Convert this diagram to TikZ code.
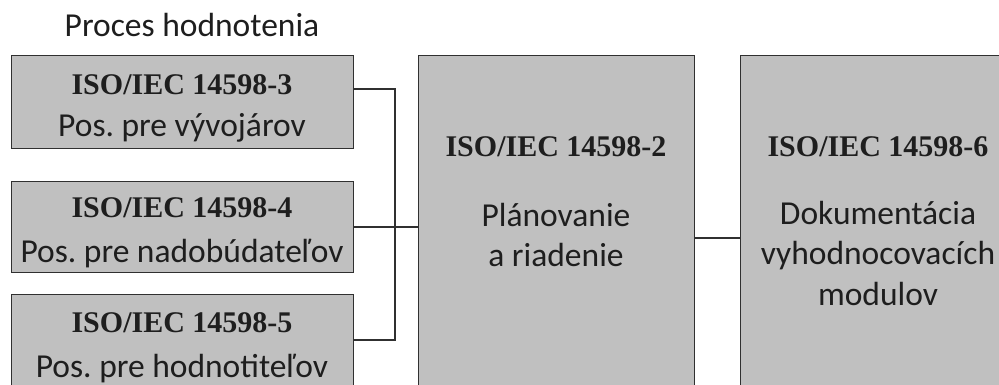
\documentclass[tikz,border=0pt]{standalone}
\usepackage{fontspec}
\setmainfont{Liberation Serif}
\newfontfamily\calfont{Carlito}
\definecolor{boxfill}{HTML}{C0C0C0}
\definecolor{boxline}{HTML}{303030}
\definecolor{txt}{HTML}{1E1E1E}
\frenchspacing
\begin{document}
\begin{tikzpicture}[x=1pt,y=1pt,
  box/.style={draw=boxline,line width=1.4pt,fill=boxfill,inner sep=0pt,anchor=north west},
  isotxt/.style={anchor=base,inner sep=0pt,text=txt,font=\fontsize{30}{36}\selectfont\bfseries},
  caltxt/.style={anchor=base,inner sep=0pt,text=txt,font=\calfont\fontsize{33.5}{40}\selectfont\frenchspacing},
  conn/.style={draw=boxline,line width=1.1pt}]
\useasboundingbox (0,0) rectangle (999,-385);
\clip (0,0) rectangle (999,-385);
\fill[white] (0,0) rectangle (999,-385);
% title
\node[caltxt] (title) at (192,-37) {Proces hodnotenia};
% boxes
\node[box,minimum width=342pt,minimum height=93pt] (b3) at (11,-55) {};
\node[box,minimum width=342pt,minimum height=91pt] (b4) at (11,-181) {};
\node[box,minimum width=342pt,minimum height=95pt] (b5) at (11,-294) {};
\node[box,minimum width=276pt,minimum height=360pt] (b2) at (418,-55) {};
\node[box,minimum width=276pt,minimum height=360pt] (b6) at (740,-55) {};
% texts
\node[isotxt] (t3a) at (182,-95) {ISO/IEC 14598-3};
\node[caltxt] (t3b) at (182,-137) {Pos. pre vývojárov};
\node[isotxt] (t4a) at (182,-218) {ISO/IEC 14598-4};
\node[caltxt] (t4b) at (182,-262) {Pos. pre nadobúdateľov};
\node[isotxt] (t5a) at (182,-332) {ISO/IEC 14598-5};
\node[caltxt] (t5b) at (182,-377) {Pos. pre hodnotiteľov};
\node[isotxt] (t2a) at (556,-157) {ISO/IEC 14598-2};
\node[caltxt] (t2b) at (556,-226) {Plánovanie};
\node[caltxt] (t2c) at (556,-266) {a riadenie};
\node[isotxt] (t6a) at (878,-157) {ISO/IEC 14598-6};
\node[caltxt] (t6b) at (878,-224) {Dokumentácia};
\node[caltxt] (t6c) at (878,-264) {vyhodnocovacích};
\node[caltxt] (t6d) at (878,-305) {modulov};
% connectors
\coordinate (j) at (395,-89);
\draw[conn] (b3.east |- j) -- (j) -- (j |- 0,-340) -- (b5.east |- 0,-340);
\draw[conn] (b4.east |- 0,-227) -- (b2.west |- 0,-227);
\draw[conn] (b2.east |- 0,-238) -- (b6.west |- 0,-238);
\end{tikzpicture}
\end{document}
